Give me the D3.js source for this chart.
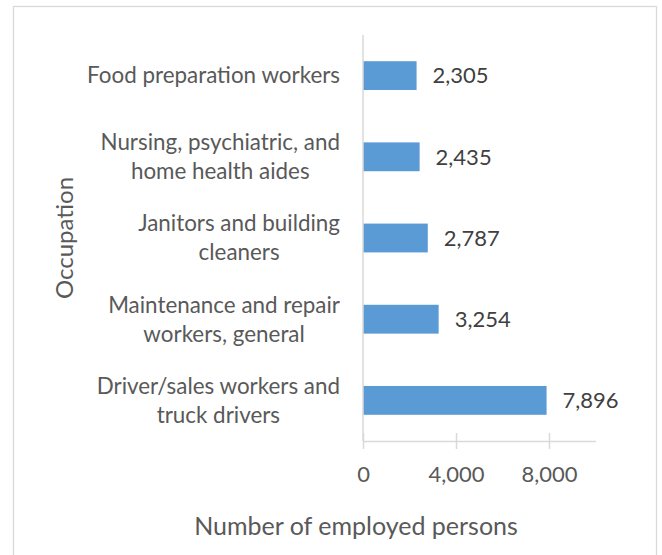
<!DOCTYPE html>
<html>
<head>
<meta charset="utf-8">
<script src="https://cdn.jsdelivr.net/npm/d3@7"></script>
<style>
body{margin:0;background:#fff;}
text{font-family:Lato,"Open Sans",sans-serif;}
</style>
</head>
<body>
<svg id="chart" width="662" height="555"></svg>
<script>
// occupations, top to bottom
var occupations=["Food preparation workers","Nursing, psychiatric, and|home health aides","Janitors and building|cleaners","Maintenance and repair|workers, general","Driver/sales workers and|truck drivers"];
var employed=[2305,2435,2787,3254,7896];
var xTicks=[0,4000,8000];
var xMax=10000;

var svg=d3.select("#chart");
var fmt=d3.format(",");

// chart border
svg.append("rect").attr("x",13.5).attr("y",6.5).attr("width",643).attr("height",560)
	.attr("fill","none").attr("stroke","#d9d9d9").attr("stroke-width",1.3);

var plotL=363,plotR=595.5,plotT=35,plotB=441;
var x=d3.scaleLinear().domain([0,xMax]).range([plotL,plotR]);
var y=d3.scaleBand().domain(occupations).range([plotT,plotB]).paddingInner(0.645).paddingOuter(0.3225);

// bars
svg.selectAll(".bar").data(occupations).enter().append("rect").attr("class","bar")
	.attr("x",x(0)).attr("y",function(d){return y(d);})
	.attr("width",function(d,i){return x(employed[i])-x(0);})
	.attr("height",y.bandwidth()).attr("fill","#5b9bd5");

// value labels
svg.selectAll(".val").data(occupations).enter().append("text").attr("class","val")
	.attr("x",function(d,i){return x(employed[i])+16;})
	.attr("y",function(d){return y(d)+y.bandwidth()/2;})
	.attr("dy","0.35em").attr("font-size",22).attr("fill","#404040")
	.text(function(d,i){return fmt(employed[i]);});

// x axis
var xAxis=svg.append("g").attr("transform","translate(0,"+plotB+")")
	.call(d3.axisBottom(x).tickValues(xTicks).tickFormat(fmt).tickSizeInner(8).tickSizeOuter(0).tickPadding(17));
xAxis.select(".domain").attr("stroke","#d9d9d9").attr("stroke-width",1.5);
xAxis.selectAll(".tick line").attr("stroke","#d9d9d9").attr("stroke-width",1.5).attr("y1",-8);
xAxis.selectAll(".tick text").attr("font-size",22).attr("fill","#595959").attr("font-family","Lato,'Open Sans',sans-serif");

// y axis line
svg.append("line").attr("x1",plotL).attr("x2",plotL).attr("y1",plotT).attr("y2",plotB)
	.attr("stroke","#d9d9d9").attr("stroke-width",1.5);

// category labels, multi-line ones centred in their block
var lineH=29;
occupations.forEach(function(d){
	var lines=d.split("|");
	var cy=y(d)+y.bandwidth()/2;
	var g=svg.append("g");
	var texts=lines.map(function(l,i){
		return g.append("text").attr("y",cy+(i-(lines.length-1)/2)*lineH).attr("dy","0.35em")
			.attr("font-size",22.4).attr("fill","#595959").attr("text-anchor","middle").text(l);
	});
	var w=d3.max(texts,function(t){return t.node().getComputedTextLength();});
	texts.forEach(function(t){t.attr("x",340-w/2);});
});

// axis titles
svg.append("text").attr("x",356).attr("y",526).attr("dy","0.35em").attr("text-anchor","middle")
	.attr("font-size",25).attr("fill","#595959").text("Number of employed persons");
svg.append("text").attr("transform","translate(65,238) rotate(-90)").attr("dy","0.35em").attr("text-anchor","middle")
	.attr("font-size",24).attr("fill","#595959").text("Occupation");
</script>
</body>
</html>
